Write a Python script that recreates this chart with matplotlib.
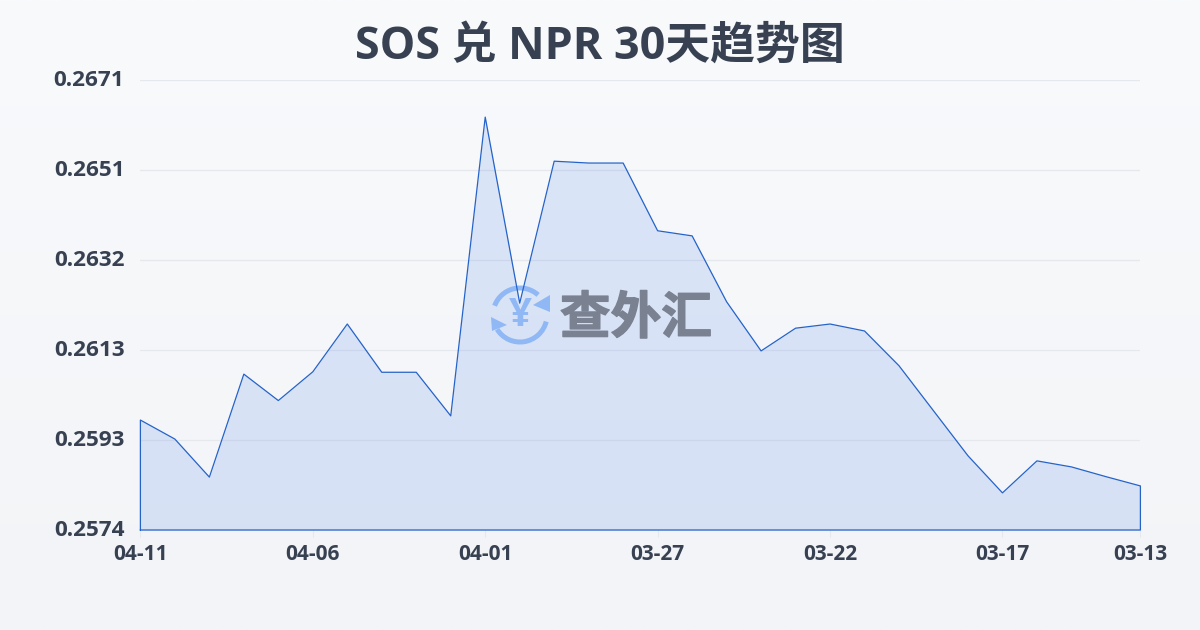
import numpy as np
import matplotlib
matplotlib.use("Agg")
import matplotlib.pyplot as plt
import matplotlib.patheffects as pe
from matplotlib.patches import Arc, Polygon
from matplotlib.transforms import ScaledTranslation

plt.rcParams["font.family"] = ["Open Sans", "Noto Sans CJK SC", "DejaVu Sans"]

W, H = 1200, 630

title = "SOS 兑 NPR 30天趋势图"
watermark = "查外汇"
rates = [
    0.25977, 0.25936, 0.25854, 0.26076, 0.26019, 0.26081, 0.26184, 0.26080, 0.26080, 0.25986,
    0.26630, 0.26229, 0.26535, 0.26531, 0.26531, 0.26385, 0.26374, 0.26232, 0.26126, 0.26175,
    0.26184, 0.26169, 0.26094, 0.25997, 0.25900, 0.25820, 0.25889, 0.25876, 0.25855, 0.25835,
]
xtick_pos = [0, 5, 10, 15, 20, 25, 29]
xtick_labels = ["04-11", "04-06", "04-01", "03-27", "03-22", "03-17", "03-13"]
ytick_vals = [0.2574, 0.25934, 0.26128, 0.26322, 0.26516, 0.2671]
ytick_labels = ["0.2574", "0.2593", "0.2613", "0.2632", "0.2651", "0.2671"]

TEXT = "#374151"
LINE = "#2563c9"

fig = plt.figure(figsize=(W / 100, H / 100), dpi=100)

# page background, soft vertical gradient
bg = fig.add_axes([0, 0, 1, 1], zorder=0)
bg.imshow(np.linspace(0, 1, 256).reshape(-1, 1), aspect="auto", extent=[0, W, H, 0],
          cmap=matplotlib.colors.LinearSegmentedColormap.from_list("bg", ["#f8fafc", "#f2f4f7"]))
bg.set_xlim(0, W)
bg.set_ylim(H, 0)
bg.axis("off")

ax = fig.add_axes([140.4 / W, 1 - 530 / H, 1000 / W, 450 / H], zorder=1)
ax.patch.set_alpha(0)
x = np.arange(len(rates))
ax.set_xlim(0, 29)
ax.set_ylim(0.2574, 0.2671)
ax.grid(axis="y", color="#e5e8ed", lw=0.9)
ax.set_axisbelow(True)
ax.fill_between(x, rates, 0.2574, color="#2f6be8", alpha=0.14, lw=0, zorder=2)

for s in ax.spines.values():
    s.set_visible(False)

ax.set_yticks(ytick_vals, ytick_labels)
ax.set_xticks(xtick_pos, xtick_labels)
ax.tick_params(axis="y", length=0, pad=11.5, labelsize=16.2, labelcolor=TEXT)
ax.tick_params(axis="x", length=5, width=0.8, color="#e5e8ed", pad=5, labelsize=15, labelcolor=TEXT)
for t in ax.get_xticklabels() + ax.get_yticklabels():
    t.set_fontweight("bold")
# y labels sit a little above their gridlines in the reference
up = ScaledTranslation(0, 2.5 / 100, fig.dpi_scale_trans)
for t in ax.get_yticklabels():
    t.set_transform(t.get_transform() + up)

# watermark sits between the fill and the line, drawn in pixel coordinates
ov = fig.add_axes([0, 0, 1, 1], zorder=2)
ov.set_xlim(0, W)
ov.set_ylim(H, 0)
ov.axis("off")
BLUE = "#8fb8f5"
cx, cy = 520, 315
ov.add_patch(Arc((cx, cy), 54, 54, theta1=200, theta2=312, color=BLUE, lw=3.6))
ov.add_patch(Arc((cx, cy), 54, 54, theta1=14, theta2=148, color=BLUE, lw=3.6))
ov.add_patch(Polygon([(550, 295), (550, 312), (533, 305)], color=BLUE, lw=0))
ov.add_patch(Polygon([(491, 317), (507, 325), (492, 331)], color=BLUE, lw=0))
ov.text(cx, cy, "¥", color=BLUE, fontsize=29, fontweight="bold", ha="center", va="center")
wm = ov.text(636, 320.5, watermark, color="#7a8292", fontsize=36.5, fontweight="bold", ha="center", va="center")
wm.set_path_effects([pe.withStroke(linewidth=1, foreground="#7a8292")])

# outline closes down to the baseline on both sides
ax2 = fig.add_axes(ax.get_position(), zorder=3)
ax2.patch.set_alpha(0)
ax2.axis("off")
ax2.set_xlim(ax.get_xlim())
ax2.set_ylim(ax.get_ylim())
ax2.plot(np.r_[0, x, 29, 0], np.r_[0.2574, rates, 0.2574, 0.2574], color=LINE, lw=0.9, clip_on=False)

fig.text(600 / W, 1 - 47 / H, title, color=TEXT, fontsize=32.3, fontweight="bold", ha="center", va="center")

fig.savefig("out.png", dpi=100)
